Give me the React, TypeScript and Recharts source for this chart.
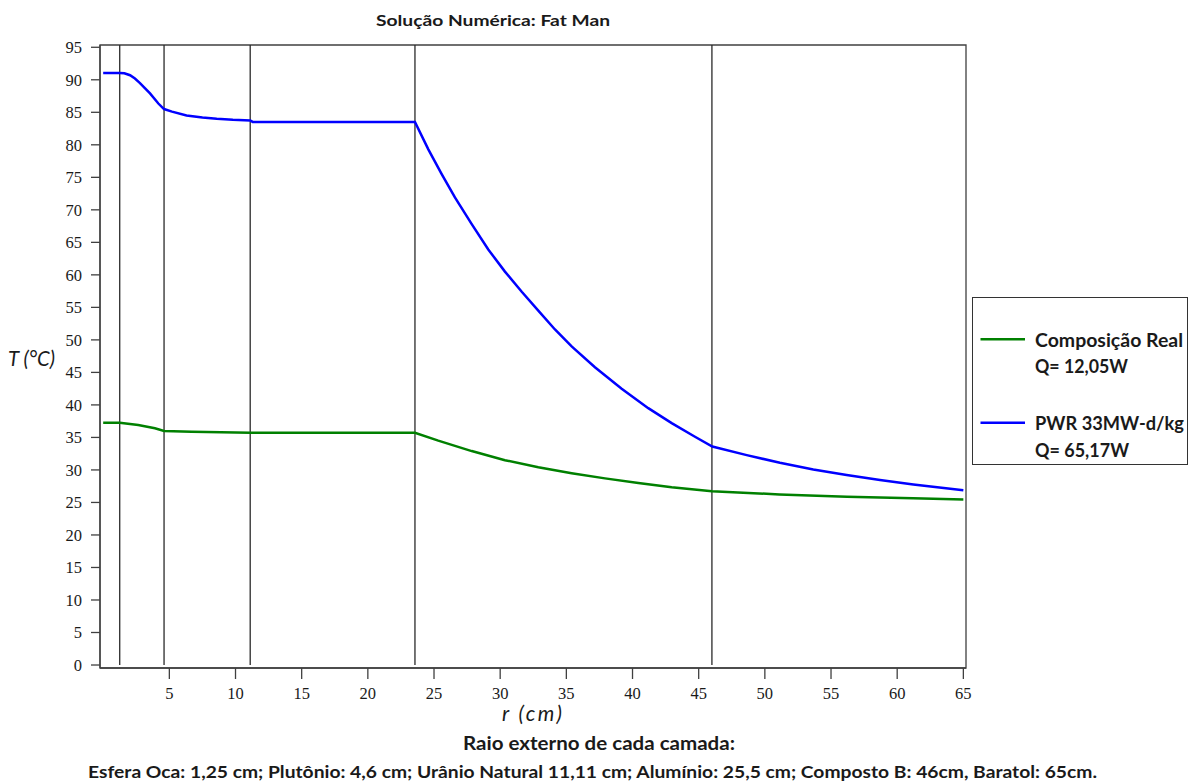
import React from 'react';
import { LineChart, Line, XAxis, YAxis, ReferenceLine, ReferenceArea, Legend } from 'recharts';

// ---- data ----
const rReal = [0, 1.25, 2.65, 3.91, 4.6, 6.69, 11.11, 23.56, 25.32, 27.85, 30.36, 32.88, 35.4, 37.92, 40.44, 42.96, 46.0, 51.1, 56.2, 61.2, 65];
const tReal = [37.25, 37.25, 36.9, 36.4, 36.0, 35.87, 35.71, 35.71, 34.5, 32.9, 31.5, 30.4, 29.5, 28.7, 28.0, 27.35, 26.72, 26.24, 25.87, 25.63, 25.45];

const rPwr = [0, 1.25, 1.6, 2.03, 2.4, 2.78, 3.54, 4.17, 4.6, 5.2, 6.3, 7.5, 8.58, 9.8, 11.11, 11.3, 23.56, 24.57, 25.58, 26.58, 27.85, 29.1, 30.36, 31.63, 32.88, 34.14, 35.4, 37.16, 39.18, 41.19, 42.96, 44.72, 46.03, 48.63, 51.14, 53.66, 56.18, 58.7, 61.22, 65];
const tPwr = [91.06, 91.06, 91.0, 90.7, 90.2, 89.5, 87.9, 86.35, 85.5, 85.1, 84.5, 84.2, 84.0, 83.85, 83.75, 83.52, 83.52, 79.3, 75.5, 71.9, 67.8, 63.9, 60.5, 57.4, 54.5, 51.6, 49.0, 45.8, 42.5, 39.5, 37.2, 35.1, 33.6, 32.28, 31.1, 30.08, 29.21, 28.44, 27.77, 26.87];

const layerBounds = [1.25, 4.6, 11.11, 23.56, 46];
const xTicks = [5, 10, 15, 20, 25, 30, 35, 40, 45, 50, 55, 60, 65];
const yTicks = [0, 5, 10, 15, 20, 25, 30, 35, 40, 45, 50, 55, 60, 65, 70, 75, 80, 85, 90, 95];

const seriesNames = ['Composição Real', 'PWR 33MW-d/kg'];
const seriesPower = ['Q= 12,05W', 'Q= 65,17W'];
const seriesColors = ['#008000', '#0000ff'];

const chartTitle = 'Solução Numérica: Fat Man';
const xLabel = 'r (cm)';
const yLabel = 'T (°C)';
const footTitle = 'Raio externo de cada camada:';
const footText = 'Esfera Oca: 1,25 cm; Plutônio: 4,6 cm; Urânio Natural 11,11 cm; Alumínio: 25,5 cm; Composto B: 46cm, Baratol: 65cm.';

const realData = rReal.map((r, i) => ({ r, t: tReal[i] }));
const pwrData = rPwr.map((r, i) => ({ r, t: tPwr[i] }));

const X_DOMAIN: [number, number] = [-0.24, 65.2];
const Y_DOMAIN: [number, number] = [-0.46, 95.35];

const sansFont = 'Lato, "Open Sans", "Noto Sans", sans-serif';
const serifFont = '"Liberation Serif", "DejaVu Serif", serif';

const LegendBox = () => (
  <svg width={217} height={169} style={{ display: 'block' }}>
    <rect x={0.5} y={0.5} width={215} height={167} fill="#fff" stroke="#333" strokeWidth={1} />
    {seriesNames.map((name, i) => {
      const base = i === 0 ? 0 : 83.4;
      return (
        <g key={name}>
          <line x1={8.5} x2={53} y1={42.3 + base} y2={42.3 + base} stroke={seriesColors[i]} strokeWidth={2.5} />
          <text x={63} y={49.7 + base} fontFamily={sansFont} fontWeight={700} fontSize={18} fill="#1a1a1a" textLength={i === 0 ? 148 : 149} lengthAdjust="spacingAndGlyphs">{name}</text>
          <text x={63} y={76.3 + base} fontFamily={sansFont} fontWeight={700} fontSize={18} fill="#1a1a1a" textLength={i === 0 ? 93 : 94} lengthAdjust="spacingAndGlyphs">{seriesPower[i]}</text>
        </g>
      );
    })}
  </svg>
);

export default function App() {
  return (
    <div style={{ position: 'absolute', left: 0, top: 0, width: 1190, height: 783, background: '#fff' }}>
      <LineChart width={1190} height={783} margin={{ top: 45, right: 224, left: 40, bottom: 85 }}>
        <XAxis
          dataKey="r"
          type="number"
          domain={X_DOMAIN}
          ticks={xTicks}
          allowDataOverflow
          height={30}
          tickSize={11}
          tickMargin={8}
          axisLine={{ stroke: '#404040', strokeWidth: 1.3 }}
          tickLine={{ stroke: '#404040', strokeWidth: 1.3 }}
          tick={{ fontFamily: serifFont, fontSize: 16.5, fill: '#1a1a1a' }}
        />
        <YAxis
          type="number"
          domain={Y_DOMAIN}
          ticks={yTicks}
          allowDataOverflow
          width={60}
          tickSize={9}
          tickMargin={9}
          axisLine={{ stroke: '#404040', strokeWidth: 1.3 }}
          tickLine={{ stroke: '#404040', strokeWidth: 1.3 }}
          tick={{ fontFamily: serifFont, fontSize: 16.5, fill: '#1a1a1a' }}
        />
        <ReferenceArea x1={X_DOMAIN[0]} x2={X_DOMAIN[1]} y1={Y_DOMAIN[0]} y2={Y_DOMAIN[1]} fill="none" fillOpacity={0} stroke="#404040" strokeWidth={1.3} />
        {layerBounds.map((b) => (
          <ReferenceLine key={b} segment={[{ x: b, y: 0 }, { x: b, y: Y_DOMAIN[1] }]} stroke="#2a2a2a" strokeWidth={1.3} />
        ))}
        <Line data={realData} dataKey="t" name={seriesNames[0]} type="linear" stroke={seriesColors[0]} strokeWidth={2.5} dot={false} isAnimationActive={false} />
        <Line data={pwrData} dataKey="t" name={seriesNames[1]} type="linear" stroke={seriesColors[1]} strokeWidth={2.5} dot={false} isAnimationActive={false} />
        <Legend layout="vertical" align="center" verticalAlign="middle" wrapperStyle={{ left: 972, top: 297, width: 217, height: 169 }} content={() => <LegendBox />} />
        <text x={493} y={26} textAnchor="middle" fontFamily={sansFont} fontWeight={700} fontSize={15.5} fill="#1a1a1a" textLength={234} lengthAdjust="spacingAndGlyphs">{chartTitle}</text>
        <text x={8} y={366} fontFamily={sansFont} fontStyle="italic" fontSize={21} fill="#1a1a1a" textLength={47} lengthAdjust="spacingAndGlyphs">{yLabel}</text>
        <text x={502} y={721} fontFamily={sansFont} fontStyle="italic" fontSize={21} fill="#1a1a1a" textLength={60} lengthAdjust="spacing">{xLabel}</text>
        <text x={599} y={750} textAnchor="middle" fontFamily={sansFont} fontWeight={700} fontSize={18} fill="#1a1a1a" textLength={272} lengthAdjust="spacingAndGlyphs">{footTitle}</text>
        <text x={592.5} y={778} textAnchor="middle" fontFamily={sansFont} fontWeight={700} fontSize={17.5} fill="#1a1a1a" textLength={1009} lengthAdjust="spacingAndGlyphs">{footText}</text>
      </LineChart>
    </div>
  );
}
